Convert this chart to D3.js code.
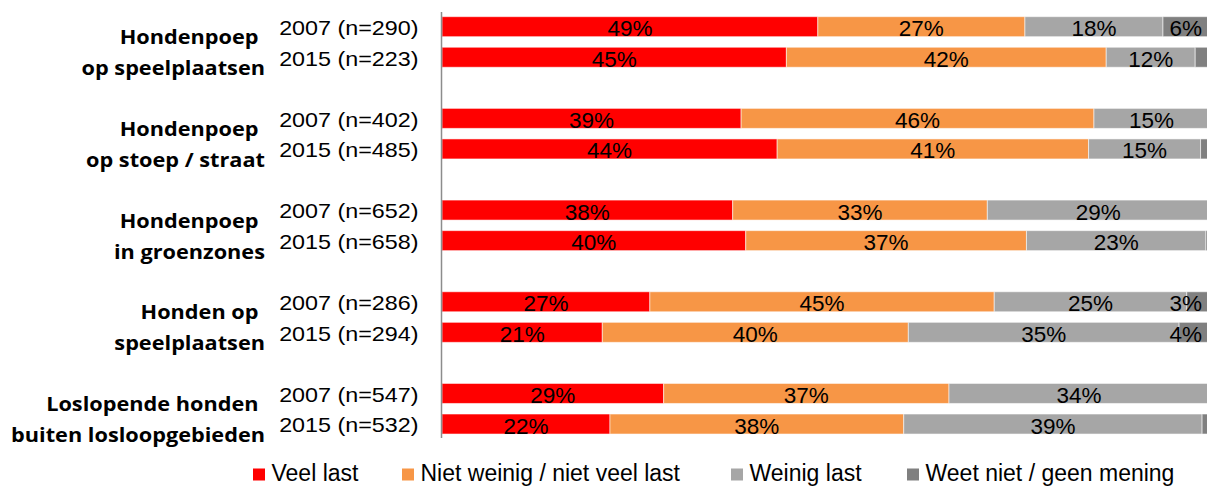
<!DOCTYPE html>
<html>
<head>
<meta charset="utf-8">
<script src="https://cdn.jsdelivr.net/npm/d3@7"></script>
<style>
  html, body { margin: 0; padding: 0; background: #fff; }
  svg { display: block; }
</style>
</head>
<body>
<svg id="chart" width="1207" height="486"></svg>
<script>
// ---- DATA ----
const categories = [
  ["Hondenpoep", "op speelplaatsen"],
  ["Hondenpoep", "op stoep / straat"],
  ["Hondenpoep", "in groenzones"],
  ["Honden op", "speelplaatsen"],
  ["Loslopende honden", "buiten losloopgebieden"]
];
const rowLabels = [
  "2007 (n=290)", "2015 (n=223)",
  "2007 (n=402)", "2015 (n=485)",
  "2007 (n=652)", "2015 (n=658)",
  "2007 (n=286)", "2015 (n=294)",
  "2007 (n=547)", "2015 (n=532)"
];
const seriesNames = ["Veel last", "Niet weinig / niet veel last", "Weinig last", "Weet niet / geen mening"];
const veelLast      = [49, 44.9, 39.0, 43.7, 37.9, 39.6, 27.1, 20.9, 28.9, 21.9];
const nietWeinig    = [27, 41.7, 46.0, 40.6, 33.2, 36.6, 44.9, 39.9, 37.2, 38.3];
const weinigLast    = [18, 11.6, 15.0, 14.6, 28.9, 23.4, 25.1, 35.3, 33.9, 38.9];
const weetNiet      = [6, 1.8, 0, 1.1, 0, 0.4, 2.9, 3.9, 0, 0.9];

// ---- STYLE ----
const colors = ["#FF0000", "#F79646", "#A6A6A6", "#808080"];
const sansFont = "'Liberation Sans', Arial, sans-serif";
const boldFont = "'Open Sans', 'Noto Sans', sans-serif";

const svg = d3.select("#chart");

// slots: 2 rows per group with an empty slot between groups
const slotIndex = rowLabels.map((d, i) => Math.floor(i / 2) * 3 + (i % 2));
const nSlots = 14;

const x = d3.scaleLinear().domain([0, 100]).range([442, 1209]);
const y = d3.scaleBand()
  .domain(d3.range(nSlots))
  .range([11.4, 439.3])
  .paddingInner(0.3456)
  .paddingOuter(0.1728);

const rows = rowLabels.map((label, i) => ({
  label, i, slot: slotIndex[i],
  values: [veelLast[i], nietWeinig[i], weinigLast[i], weetNiet[i]]
}));

const stack = d3.stack().keys([0, 1, 2, 3]).value((d, k) => d.values[k]);
const stacked = stack(rows);

const bars = svg.append("g");
stacked.forEach((layer, k) => {
  bars.selectAll(null)
    .data(layer)
    .enter()
    .append("rect")
    .attr("x", d => x(d[0]))
    .attr("y", d => y(d.data.slot))
    .attr("width", d => Math.max(0, x(d[1]) - x(d[0])))
    .attr("height", y.bandwidth())
    .attr("fill", colors[k])
    .attr("stroke", "rgba(255,255,255,0.55)")
    .attr("stroke-width", 1);
});

// value labels
const labelsG = svg.append("g")
  .attr("font-family", sansFont)
  .attr("font-size", "22.5px")
  .attr("fill", "#000");
stacked.forEach((layer, k) => {
  layer.forEach(d => {
    const v = d[1] - d[0];
    if (v < 2.5) return;
    const txt = Math.round(v) + "%";
    let cx = (x(d[0]) + x(d[1])) / 2;
    const t = labelsG.append("text")
      .attr("y", y(d.data.slot) + 19.5)
      .attr("text-anchor", "middle")
      .text(txt);
    const w = t.node().getComputedTextLength();
    if (cx + w / 2 > 1202) cx = 1202 - w / 2;
    t.attr("x", cx);
  });
});

// axis line
svg.append("line")
  .attr("x1", 441.5).attr("x2", 441.5)
  .attr("y1", 12).attr("y2", 438)
  .attr("stroke", "#8C8C8C")
  .attr("stroke-width", 1.5);

// row (year) labels
const rowG = svg.append("g")
  .attr("font-family", sansFont)
  .attr("font-size", "21px")
  .attr("fill", "#000");
rows.forEach(r => {
  const t = rowG.append("text")
    .attr("x", 418.5)
    .attr("y", y(r.slot) + 18.3)
    .attr("text-anchor", "end")
    .text(r.label);
  const w = t.node().getComputedTextLength();
  t.attr("textLength", w * 1.11).attr("lengthAdjust", "spacingAndGlyphs");
});

// category labels
const catG = svg.append("g")
  .attr("font-family", boldFont)
  .attr("font-weight", 700)
  .attr("font-size", "20px")
  .attr("fill", "#000");
categories.forEach((lines, g) => {
  const top = y(g * 3);
  const base1 = top + y.bandwidth() / 2 + 17.5;
  lines.forEach((ln, j) => {
    const t = catG.append("text")
      .attr("x", j === 0 ? 258.5 : 265)
      .attr("y", base1 + j * 31)
      .attr("text-anchor", "end")
      .text(ln);
    const w = t.node().getComputedTextLength();
    t.attr("textLength", w * 1.085).attr("lengthAdjust", "spacingAndGlyphs");
  });
});

// legend
const legendX = [253, 402, 731, 907];
const legG = svg.append("g")
  .attr("font-family", sansFont)
  .attr("font-size", "23px")
  .attr("fill", "#000");
seriesNames.forEach((name, k) => {
  legG.append("rect")
    .attr("x", legendX[k]).attr("y", 468.5)
    .attr("width", 12).attr("height", 12)
    .attr("fill", colors[k]);
  legG.append("text")
    .attr("x", legendX[k] + 18.5)
    .attr("y", 480.5)
    .text(name);
});
</script>
</body>
</html>
